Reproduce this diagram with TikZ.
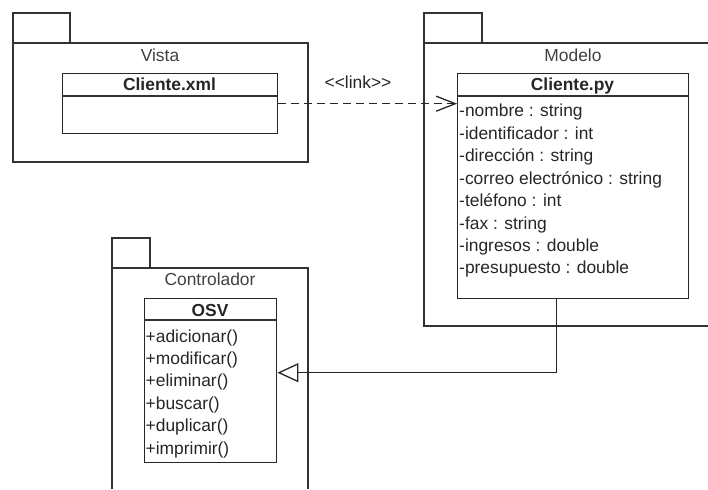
\documentclass[tikz,border=0pt]{standalone}
\usepackage{fontspec}
\setmainfont{Liberation Sans}
\usetikzlibrary{arrows.meta}
\begin{document}
\begin{tikzpicture}[x=1pt,y=-1pt,
  every node/.style={font=\fontsize{17.4}{20}\selectfont, text=black!85, inner sep=0pt},
  pkgline/.style={draw=black!80, line width=1.3pt},
  clsbox/.style={draw=black!85, line width=1.4pt, anchor=north west, inner sep=0pt},
  hdr/.style={font=\fontsize{17.4}{20}\selectfont\bfseries, anchor=base},
  item/.style={anchor=base west},
  plabel/.style={anchor=base, text=black!75}]
\useasboundingbox (0,0) rectangle (708,489);
% packages
\draw[pkgline] (13,43) -- (13,13) -- (70,13) -- (70,43);
\draw[pkgline] (13,43) rectangle (308,162);
\node[plabel] (vista) at (160,62) {Vista};
\draw[pkgline] (424,43) -- (424,13) -- (482,13) -- (482,43);
\draw[pkgline] (708,43) -- (424,43) -- (424,326) -- (708,326);
\node[plabel] (modelo) at (573,62) {Modelo};
\draw[pkgline] (112,268) -- (112,238) -- (150,238) -- (150,268);
\draw[pkgline] (112,489) -- (112,268) -- (308,268) -- (308,489);
\node[plabel] (ctrl) at (210,285) {Controlador};
% class Cliente.xml
\node[clsbox, minimum width=215pt, minimum height=60pt] (xml) at (62,73) {};
\draw[pkgline] (62,96) -- (277,96);
\node[hdr] (xmlname) at (169.5,91) {Cliente.xml};
% class Cliente.py
\node[clsbox, minimum width=231pt, minimum height=225pt] (py) at (457,73) {};
\draw[pkgline] (457,96) -- (688,96);
\node[hdr] (pyname) at (572.5,91) {Cliente.py};
\node[item] (a1) at (459,117) {-nombre : string};
\node[item] (a2) at (459,139.4) {-identificador : int};
\node[item] (a3) at (459,161.8) {-dirección : string};
\node[item] (a4) at (459,184.2) {-correo electrónico : string};
\node[item] (a5) at (459,206.6) {-teléfono : int};
\node[item] (a6) at (459,229) {-fax : string};
\node[item] (a7) at (459,251.4) {-ingresos : double};
\node[item] (a8) at (459,273.8) {-presupuesto : double};
% class OSV
\node[clsbox, minimum width=132pt, minimum height=164pt] (osv) at (144,298) {};
\draw[pkgline] (144,320) -- (276,320);
\node[hdr] (osvname) at (210,316) {OSV};
\node[item] (m1) at (145.5,342) {+adicionar()};
\node[item] (m2) at (145.5,364.4) {+modificar()};
\node[item] (m3) at (145.5,386.8) {+eliminar()};
\node[item] (m4) at (145.5,409.2) {+buscar()};
\node[item] (m5) at (145.5,431.6) {+duplicar()};
\node[item] (m6) at (145.5,454) {+imprimir()};
% connectors
\draw[draw=black!85, line width=1.3pt, dash pattern=on 8pt off 5pt,
  -{Straight Barb[length=19pt,width=15pt,line width=1.3pt]}]
  (xml.east) -- (xml.east -| py.west);
\node[anchor=base] (lnk) at (358,89) {<{}<link>{}>};
\coordinate (gsrc) at ([xshift=-16.5pt]py.south);
\coordinate (gdst) at ([yshift=8pt]osv.east);
\draw[draw=black!85, line width=1.3pt,
  -{Triangle[open,length=21pt,width=19pt,line width=1.3pt,fill=white]}]
  (gsrc) |- (gdst);
\end{tikzpicture}
\end{document}
